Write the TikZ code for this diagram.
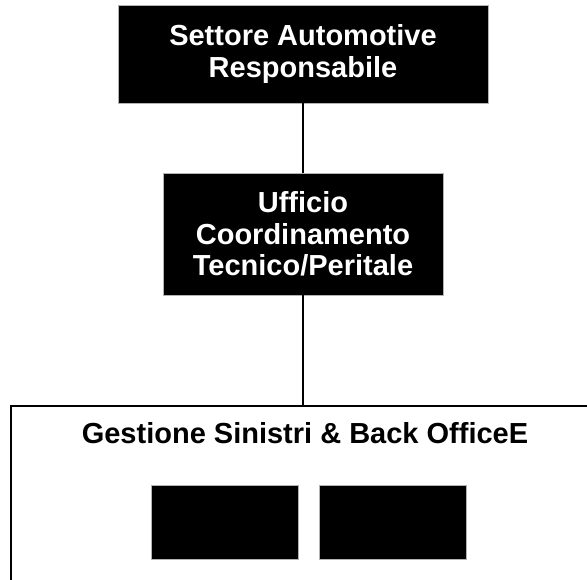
\documentclass[tikz,border=0pt]{standalone}
\usepackage{fontspec}
\setmainfont{Liberation Sans}
\begin{document}
\begin{tikzpicture}[x=1pt,y=1pt,
  blackbox/.style={rectangle, fill=black, draw=gray!60, line width=0.8pt, text=white,
    align=center, inner sep=0pt, font=\fontsize{29}{31.5}\selectfont\bfseries},
  emptybox/.style={rectangle, fill=black, draw=gray!60, line width=0.8pt, inner sep=0pt},
  framebox/.style={rectangle, draw=black, line width=1.5pt, inner sep=0pt},
  titletext/.style={inner sep=0pt, font=\fontsize{29}{31.5}\selectfont\bfseries},
  conn/.style={draw=black, line width=1.5pt}]
\useasboundingbox (0,0) rectangle (587,-580);
\clip (0,0) rectangle (587,-580);
\node[blackbox, minimum width=370, minimum height=98] (top) at (303,-54) {Settore Automotive\\Responsabile};
\node[blackbox, minimum width=280, minimum height=122] (mid) at (303,-234) {Ufficio\\Coordinamento\\Tecnico/Peritale};
\node[framebox, anchor=north west, minimum width=592, minimum height=220] (grp) at (10,-405) {};
\node[titletext, anchor=base] (title) at (305,-443) {Gestione Sinistri \& Back OfficeE};
\node[emptybox, minimum width=147, minimum height=74] (b1) at (224.5,-522) {};
\node[emptybox, minimum width=147, minimum height=74] (b2) at (392.5,-522) {};
\draw[conn] (top.south) -- (mid.north);
\draw[conn] (mid.south) -- (mid.south |- grp.north);
\end{tikzpicture}
\end{document}
